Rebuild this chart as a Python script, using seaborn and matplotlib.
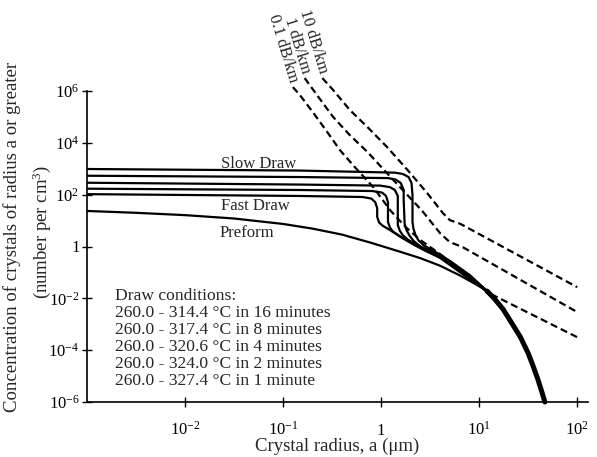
import numpy as np
import matplotlib
matplotlib.use("Agg")
import matplotlib.pyplot as plt
from matplotlib.ticker import NullLocator
import seaborn as sns

# values, stored as log10(x), log10(y)
preform_x = [-2.99, -2.5, -2.0, -1.5, -1.0, -0.7, -0.4, -0.1, 0.2, 0.4, 0.6, 0.8, 1.0, 1.08]
preform_y = [1.37, 1.30, 1.21, 1.08, 0.87, 0.69, 0.46, 0.14, -0.21, -0.45, -0.74, -1.11, -1.53, -1.72]

# every curve runs into this common tail
tail_x = [1.08, 1.15, 1.24, 1.32, 1.42, 1.50, 1.55, 1.60, 1.64, 1.67]
tail_y = [-1.72, -1.99, -2.40, -2.88, -3.49, -4.12, -4.61, -5.14, -5.62, -6.00]

draw16_x = [-2.99, -0.83, 0.14, 0.22, 0.28, 0.31, 0.32, 0.32, 0.33, 0.35, 0.38, 0.43, 0.50, 0.60, 0.73, 0.91, 1.08]
draw16_y = [2.99, 2.93, 2.85, 2.80, 2.68, 2.45, 1.98, 0.94, 0.68, 0.45, 0.24, 0.06, -0.10, -0.31, -0.63, -1.12, -1.72]
draw8_x = [-2.99, -0.83, 0.07, 0.15, 0.20, 0.23, 0.23, 0.24, 0.26, 0.29, 0.33, 0.40, 0.50, 0.60, 0.73, 0.91, 1.08]
draw8_y = [2.73, 2.68, 2.64, 2.58, 2.45, 2.18, 1.79, 0.86, 0.62, 0.42, 0.22, 0.00, -0.16, -0.34, -0.67, -1.16, -1.72]
draw4_x = [-2.99, -0.83, -0.01, 0.09, 0.14, 0.17, 0.17, 0.17, 0.19, 0.22, 0.27, 0.37, 0.48, 0.60, 0.73, 0.91, 1.08]
draw4_y = [2.46, 2.39, 2.35, 2.29, 2.18, 1.95, 1.60, 0.83, 0.61, 0.44, 0.27, 0.05, -0.15, -0.37, -0.71, -1.20, -1.72]
draw2_x = [-2.99, -0.83, -0.09, 0.01, 0.05, 0.07, 0.07, 0.09, 0.12, 0.17, 0.24, 0.33, 0.45, 0.60, 0.73, 0.91, 1.08]
draw2_y = [2.23, 2.18, 2.14, 2.08, 1.95, 1.71, 0.94, 0.73, 0.58, 0.45, 0.28, 0.08, -0.16, -0.40, -0.75, -1.24, -1.72]
draw1_x = [-2.99, -0.83, -0.19, -0.10, -0.06, -0.04, -0.04, -0.02, 0.02, 0.08, 0.19, 0.30, 0.43, 0.60, 0.73, 0.91, 1.08]
draw1_y = [2.02, 1.95, 1.91, 1.85, 1.71, 1.48, 1.14, 0.92, 0.79, 0.66, 0.39, 0.15, -0.12, -0.44, -0.79, -1.28, -1.72]

loss10_x = [-0.60, -0.49, -0.32, -0.14, 0.06, 0.27, 0.47, 0.63, 0.70, 0.81, 2.00]
loss10_y = [6.50, 6.04, 5.27, 4.61, 3.84, 2.95, 2.06, 1.29, 1.02, 0.87, -1.57]
loss1_x = [-0.78, -0.64, -0.49, -0.32, -0.14, 0.04, 0.22, 0.42, 0.60, 0.70, 0.83, 2.00]
loss1_y = [6.50, 5.77, 5.00, 4.30, 3.65, 2.91, 2.18, 1.37, 0.52, 0.17, -0.02, -2.53]
loss01_x = [-0.90, -0.83, -0.69, -0.55, -0.42, -0.27, -0.08, 0.09, 0.25, 0.40, 0.60, 0.86, 1.08, 2.00]
loss01_y = [6.15, 5.85, 5.15, 4.42, 3.72, 3.07, 2.29, 1.41, 0.75, 0.25, -0.29, -1.03, -1.76, -3.50]

x_ticks = [1e-2, 1e-1, 1, 1e1, 1e2]
x_ticklabels = [r"$10^{-2}$", r"$10^{-1}$", "1", r"$10^{1}$", r"$10^{2}$"]
y_ticks = [1e-6, 1e-4, 1e-2, 1, 1e2, 1e4, 1e6]
y_ticklabels = [r"$10^{-6}$", r"$10^{-4}$", r"$10^{-2}$", "1", r"$10^{2}$", r"$10^{4}$", r"$10^{6}$"]

conditions = ["260.0 - 314.4 \u00b0C in 16 minutes",
              "260.0 - 317.4 \u00b0C in 8 minutes",
              "260.0 - 320.6 \u00b0C in 4 minutes",
              "260.0 - 324.0 \u00b0C in 2 minutes",
              "260.0 - 327.4 \u00b0C in 1 minute"]

sns.set_theme(style="ticks")
plt.rcParams['font.family'] = ['Liberation Serif', 'DejaVu Serif']
plt.rcParams['mathtext.fontset'] = 'custom'
plt.rcParams['mathtext.rm'] = 'Liberation Serif'
plt.rcParams['mathtext.it'] = 'Liberation Serif:italic'
plt.rcParams['mathtext.bf'] = 'Liberation Serif:bold'
plt.rcParams['mathtext.default'] = 'regular'

font_size = 12
label_size = 13.5
line_w = 1.6

fig = plt.figure(figsize=(5.97, 4.57), dpi=100)
ax = fig.add_axes([87 / 597, 55 / 457, 501 / 597, 311 / 457])
ax.set_xscale('log')
ax.set_yscale('log')


def p10(v):
    return np.power(10.0, np.array(v))


sns.lineplot(x=p10(preform_x), y=p10(preform_y), sort=False, estimator=None,
             color='black', lw=line_w, ax=ax)
for xs, ys in [(draw16_x, draw16_y), (draw8_x, draw8_y), (draw4_x, draw4_y),
               (draw2_x, draw2_y), (draw1_x, draw1_y)]:
    sns.lineplot(x=p10(xs), y=p10(ys), sort=False, estimator=None,
                 color='black', lw=line_w, ax=ax)
sns.lineplot(x=p10(tail_x), y=p10(tail_y), sort=False, estimator=None,
             color='black', lw=3.6, ax=ax, clip_on=False)

for xs, ys, lab in [(loss10_x, loss10_y, "10 dB/km"),
                    (loss1_x, loss1_y, "1 dB/km"),
                    (loss01_x, loss01_y, "0.1 dB/km")]:
    sns.lineplot(x=p10(xs), y=p10(ys), sort=False, estimator=None, color='black',
                 lw=line_w, linestyle=(0, (3.2, 1.8)), clip_on=False, ax=ax)
    ax.annotate(lab, xy=(10 ** xs[0], 10 ** ys[0]), xytext=(0.5, 3.5),
                textcoords='offset points', rotation=-73, rotation_mode='anchor',
                ha='right', va='center', fontsize=font_size, annotation_clip=False)

ax.set_xlim(1e-3, 10 ** 2.11)
ax.set_ylim(1e-6, 1e6)
ax.set_xticks(x_ticks)
ax.set_xticklabels(x_ticklabels)
ax.set_yticks(y_ticks)
ax.set_yticklabels(y_ticklabels)
ax.xaxis.set_minor_locator(NullLocator())
ax.yaxis.set_minor_locator(NullLocator())
ax.tick_params(axis='both', direction='inout', length=7, width=1.0,
               labelsize=font_size, color='black', labelcolor='black')
ax.tick_params(axis='x', pad=20)
ax.tick_params(axis='y', pad=2)
plt.setp(ax.get_xticklabels(), va='baseline')

ax.spines['top'].set_visible(False)
ax.spines['right'].set_visible(False)
for s in ['left', 'bottom']:
    ax.spines[s].set_linewidth(1.2)
    ax.spines[s].set_color('black')
ax.set_facecolor('white')
ax.grid(False)

ax.text(0.267, 0.752, "Slow Draw", transform=ax.transAxes, fontsize=font_size, va='baseline')
ax.text(0.267, 0.617, "Fast Draw", transform=ax.transAxes, fontsize=font_size, va='baseline')
ax.text(0.265, 0.531, "Preform", transform=ax.transAxes, fontsize=font_size, va='baseline')
ax.text(0.056, 0.368, "Draw conditions:\n" + "\n".join(conditions),
        transform=ax.transAxes, fontsize=12.6, va='top', ha='left', linespacing=1.09)

fig.text(337 / 597, 1 - 446 / 457, "Crystal radius, a (\u03bcm)", fontsize=label_size,
         ha='center', va='center')
fig.text(12 / 597, 1 - 237 / 457, "Concentration of crystals of radius a or greater",
         fontsize=label_size, rotation=90, ha='center', va='center')
fig.text(42 / 597, 1 - 232 / 457, r"(number per cm$^{3}$)",
         fontsize=label_size, rotation=90, ha='center', va='center')

fig.savefig("out.png", dpi=100)
